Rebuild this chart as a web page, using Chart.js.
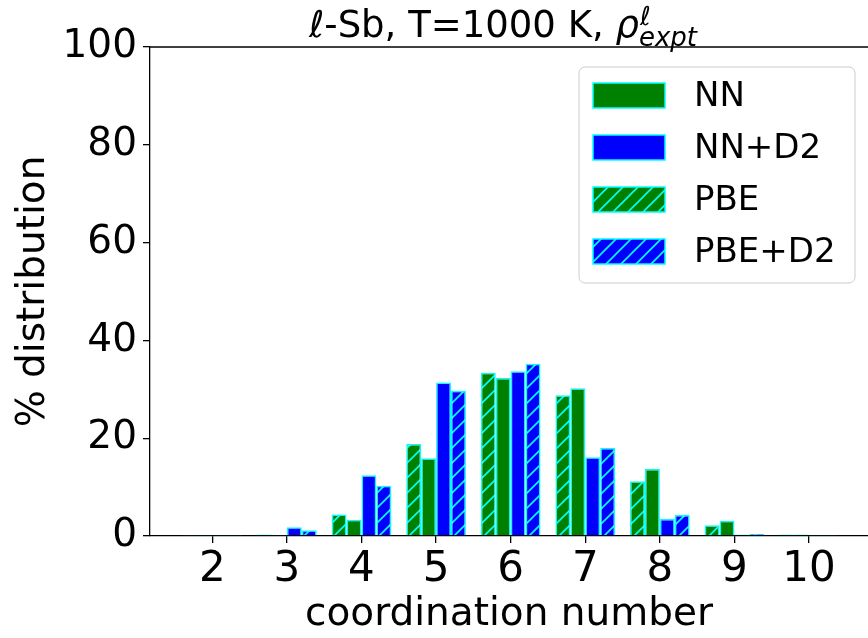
<!DOCTYPE html>
<html>
<head>
<meta charset="utf-8">
<script src="https://cdn.jsdelivr.net/npm/chart.js@4.4.0/dist/chart.umd.min.js"></script>
<style>
  html, body { margin: 0; padding: 0; background: #fff; }
</style>
</head>
<body>
<canvas id="chartCN" width="868" height="638"></canvas>
<script>
// coordination number histogram, l-Sb at 1000 K
const cn = [2, 3, 4, 5, 6, 7, 8, 9, 10];
const pbe   = [0.2, 0.3, 4.4, 18.8, 33.4, 28.8, 11.2, 2.2, 0.3];
const nn    = [0.2, 0.2, 3.3, 15.9, 32.3, 30.2, 13.7, 3.1, 0.3];
const nnD2  = [0.2, 1.8, 12.4, 31.4, 33.7, 16.1, 3.5, 0.3, 0.2];
const pbeD2 = [0.2, 1.2, 10.3, 29.7, 35.2, 18.0, 4.3, 0.4, 0.2];
const yTicks = [0, 20, 40, 60, 80, 100];
const legendOrder = ['NN', 'NN+D2', 'PBE', 'PBE+D2'];

const FONT = 'DejaVu Sans';

function hatch(bg) {
  const c = document.createElement('canvas');
  c.width = 15; c.height = 15;
  const g = c.getContext('2d');
  g.fillStyle = bg;
  g.fillRect(0, 0, 15, 15);
  g.strokeStyle = '#00ffff';
  g.lineWidth = 1.6;
  g.beginPath();
  g.moveTo(0, 15); g.lineTo(15, 0);
  g.moveTo(-1, 1); g.lineTo(1, -1);
  g.moveTo(14, 16); g.lineTo(16, 14);
  g.stroke();
  return g.createPattern(c, 'repeat');
}

function pts(vals) {
  return cn.map((c, i) => ({ x: c, y: vals[i] }));
}

function bars(label, vals, bg) {
  return {
    label: label,
    data: pts(vals),
    backgroundColor: bg,
    borderColor: '#00ffff',
    borderWidth: 1.5,
    categoryPercentage: 0.8,
    barPercentage: 1.0
  };
}

// axes frame (top spine), title with math parts, legend inside the plot
const extras = {
  id: 'extras',
  afterDraw(chart) {
    const ctx = chart.ctx;
    const a = chart.chartArea;
    ctx.save();
    ctx.strokeStyle = '#000';
    ctx.lineWidth = 1.3;
    ctx.beginPath();
    ctx.moveTo(a.left, a.top);
    ctx.lineTo(a.right, a.top);
    ctx.stroke();

    // title
    const main = '\u2113-Sb, T=1000 K, ';
    ctx.fillStyle = '#000';
    ctx.textBaseline = 'alphabetic';
    ctx.textAlign = 'left';
    ctx.font = '37px "' + FONT + '"';
    const w1 = ctx.measureText(main).width;
    ctx.font = 'italic 37px "' + FONT + '"';
    const w2 = ctx.measureText('\u03c1').width;
    ctx.font = 'italic 26px "' + FONT + '"';
    const w3 = Math.max(ctx.measureText('expt').width, ctx.measureText('\u2113').width);
    let x = 503 - (w1 + w2 + w3) / 2;
    const base = 37;
    ctx.font = '37px "' + FONT + '"';
    ctx.fillText(main, x, base);
    x += w1;
    ctx.font = 'italic 37px "' + FONT + '"';
    ctx.fillText('\u03c1', x, base);
    x += w2;
    ctx.font = 'italic 26px "' + FONT + '"';
    ctx.fillText('\u2113', x + 1, base - 12);
    ctx.fillText('expt', x, base + 9);

    // legend
    const lx = 579, ly = 67, lw = 276, lh = 216;
    ctx.beginPath();
    ctx.roundRect(lx, ly, lw, lh, 6);
    ctx.fillStyle = 'rgba(255,255,255,0.8)';
    ctx.fill();
    ctx.strokeStyle = '#cccccc';
    ctx.lineWidth = 1;
    ctx.stroke();
    ctx.font = '34px "' + FONT + '"';
    ctx.textBaseline = 'middle';
    legendOrder.forEach((name, i) => {
      const ds = chart.data.datasets.find(d => d.label === name);
      const sy = 83 + i * 52;
      ctx.fillStyle = ds.backgroundColor;
      ctx.fillRect(593, sy, 72, 25);
      ctx.strokeStyle = '#00ffff';
      ctx.lineWidth = 1.5;
      ctx.strokeRect(593, sy, 72, 25);
      ctx.fillStyle = '#000';
      ctx.fillText(name, 694, sy + 14);
    });
    ctx.restore();
  }
};

const ctx = document.getElementById('chartCN');

new Chart(ctx, {
  type: 'bar',
  data: {
    datasets: [
      bars('PBE', pbe, hatch('#008000')),
      bars('NN', nn, '#008000'),
      bars('NN+D2', nnD2, '#0000ff'),
      bars('PBE+D2', pbeD2, hatch('#0000ff'))
    ]
  },
  options: {
    responsive: false,
    animation: false,
    layout: { padding: { top: 47, right: 0, left: 0, bottom: 0 } },
    plugins: {
      legend: { display: false },
      tooltip: { enabled: false }
    },
    scales: {
      x: {
        type: 'linear',
        offset: false,
        min: 1.165,
        max: 10.79,
        afterBuildTicks: s => { s.ticks = cn.map(v => ({ value: v })); },
        afterFit: s => { s.height = 102; },
        ticks: {
          color: '#000',
          font: { family: FONT, size: 42 },
          padding: 2,
          maxRotation: 0,
          callback: v => String(v)
        },
        grid: { offset: false, drawOnChartArea: false, drawTicks: true, tickLength: 7, color: '#000', lineWidth: 1.3 },
        border: { display: true, color: '#000', width: 1.3 },
        title: {
          display: true,
          text: 'coordination number',
          color: '#000',
          font: { family: FONT, size: 39 },
          padding: { top: 0, bottom: 0 }
        }
      },
      y: {
        min: 0,
        max: 100,
        afterBuildTicks: s => { s.ticks = yTicks.map(v => ({ value: v })); },
        afterFit: s => { s.width = 150; },
        ticks: {
          color: '#000',
          font: { family: FONT, size: 39 },
          padding: 6
        },
        grid: { drawOnChartArea: false, drawTicks: true, tickLength: 7, color: '#000', lineWidth: 1.3 },
        border: { display: true, color: '#000', width: 1.3 },
        title: {
          display: true,
          text: '% distribution',
          color: '#000',
          font: { family: FONT, size: 39 },
          padding: { top: 10, bottom: 0 }
        }
      }
    }
  },
  plugins: [extras]
});
</script>
</body>
</html>
